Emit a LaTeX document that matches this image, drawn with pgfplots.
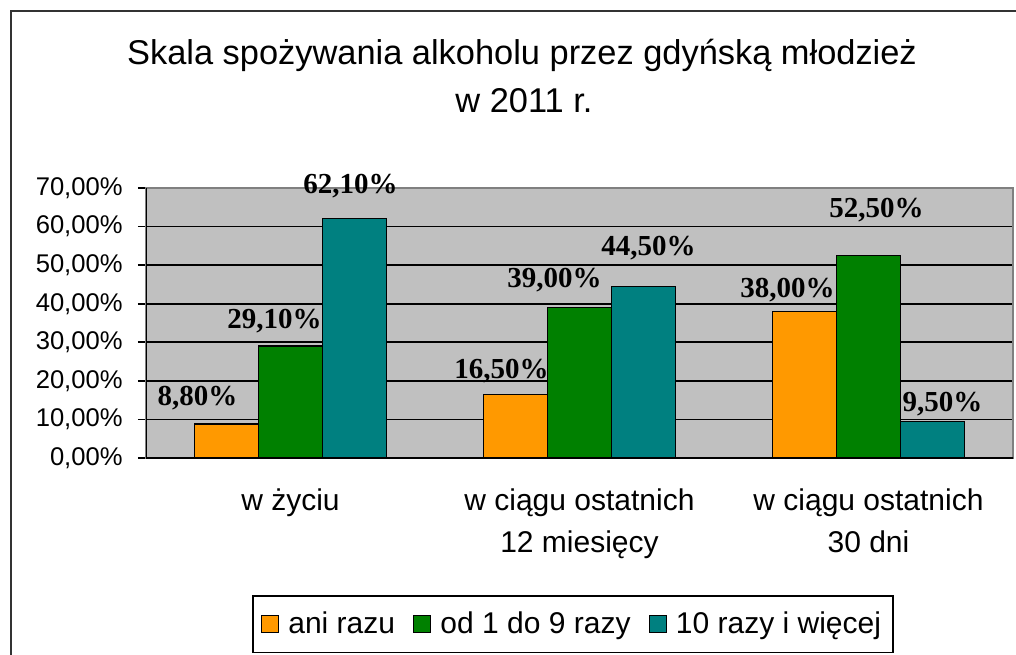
\documentclass[border=0pt]{standalone}
\usepackage{fontspec}
\setmainfont{Liberation Sans}
\newfontfamily\seriffont{Liberation Serif}
\usepackage{pgfplots}
\usepackage{pgfplotstable}
\pgfplotsset{compat=1.18}
\definecolor{cOr}{HTML}{FF9900}
\definecolor{cGr}{HTML}{008000}
\definecolor{cTe}{HTML}{008080}
\definecolor{cBg}{HTML}{C0C0C0}

% dx, dy: label offsets (pt) from bar top centre
\pgfplotstableread{
x y dx dy
0 8.8 -14.5 13
1 16.5 -7 11.5
2 38.0 -8.5 10.5
}\tOr
\pgfplotstableread{
x y dx dy
0 29.1 -8 12.5
1 39.0 -12.5 13.5
2 52.5 4 22.5
}\tGr
\pgfplotstableread{
x y dx dy
0 62.1 -2 16
1 44.5 2.5 19
2 9.5 5 8.5
}\tTe

\begin{document}
\begin{tikzpicture}
\useasboundingbox (0,0) rectangle (508pt,327pt);
\draw[color=black!80, line width=1pt] (5.5pt,-20pt) rectangle (540pt,321.5pt);
\node[anchor=base, inner sep=0pt, font=\fontsize{17.2pt}{20pt}\selectfont] at (261pt,294.5pt) {Skala spożywania alkoholu przez gdyńską młodzież};
\node[anchor=base, inner sep=0pt, font=\fontsize{17.2pt}{20pt}\selectfont] at (262pt,270.5pt) {w 2011 r.};
\begin{axis}[
  at={(73pt,98pt)}, anchor=south west,
  scale only axis, width=433.5pt, height=135pt,
  xmin=-0.5, xmax=2.5, ymin=0, ymax=70,
  ybar=0pt, bar width=32pt,
  axis background/.style={fill=cBg},
  axis line style={draw=black!50, line width=0.8pt},
  xtick={0,1,2},
  xticklabels={{w życiu},{w ciągu ostatnich\\12 miesięcy},{w ciągu ostatnich\\30 dni}},
  xticklabel style={align=center, anchor=north, inner sep=0pt, yshift=-11.3pt,
    font=\fontsize{15pt}{21pt}\selectfont},
  x tick style={draw=none},
  ytick={0,10,20,30,40,50,60,70},
  yticklabels={{0,00\%},{10,00\%},{20,00\%},{30,00\%},{40,00\%},{50,00\%},{60,00\%},{70,00\%}},
  yticklabel style={anchor=east, inner sep=0pt, xshift=-7.5pt, font=\fontsize{12.8pt}{15pt}\selectfont},
  ytick pos=left,
  tick align=outside,
  major tick length=4pt,
  y tick style={draw=black, line width=0.9pt},
  ymajorgrids,
  major grid style={draw=black, line width=0.9pt},
  legend columns=3,
  legend style={at={(0.4925,-0.507)}, anchor=north, draw=black, line width=0.9pt,
    inner ysep=6pt, inner xsep=4pt,
    font=\fontsize{15pt}{17pt}\selectfont,
    /tikz/every odd column/.append style={column sep=2.5pt},
    /tikz/every even column/.append style={column sep=7pt}},
  legend image code/.code={\draw[#1, draw=black, line width=0.7pt] (0pt,-4.25pt) rectangle (8.5pt,4.25pt);},
  nodes near coords={\pgfmathprintnumber[fixed, fixed zerofill, precision=2, use comma, assume math mode=true]{\pgfplotspointmeta}\%},
  visualization depends on={\thisrow{dx} \as \dx},
  visualization depends on={\thisrow{dy} \as \dy},
  nodes near coords style={anchor=center, inner sep=0pt, xshift=\dx pt, yshift=\dy pt,
    font=\seriffont\bfseries\fontsize{14.5pt}{16pt}\selectfont, text=black},
]
\addplot[fill=cOr, draw=black, line width=0.8pt] table[x=x, y=y] {\tOr};
\addplot[fill=cGr, draw=black, line width=0.8pt] table[x=x, y=y] {\tGr};
\addplot[fill=cTe, draw=black, line width=0.8pt] table[x=x, y=y] {\tTe};
\legend{ani razu, od 1 do 9 razy, 10 razy i więcej}
\draw[black!50, line width=0.9pt] (rel axis cs:0,1) -- (rel axis cs:1,1) -- (rel axis cs:1,0);
\draw[black, line width=0.9pt] (rel axis cs:0,1) -- (rel axis cs:0,0) -- (rel axis cs:1,0);
\draw[black, line width=0.9pt] (axis cs:-0.5,0) -- ++(0,-4pt);
\draw[black, line width=0.9pt] (axis cs:0.5,0) -- ++(0,-4pt);
\draw[black, line width=0.9pt] (axis cs:1.5,0) -- ++(0,-4pt);
\draw[black, line width=0.9pt] (axis cs:2.5,0) -- ++(0,-4pt);
\end{axis}
\end{tikzpicture}
\end{document}
